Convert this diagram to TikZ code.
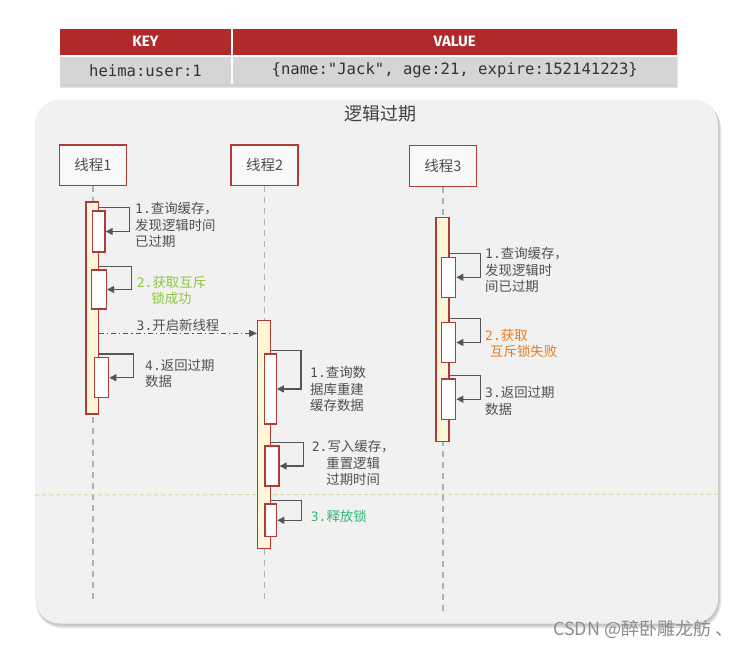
\documentclass[tikz,border=0pt]{standalone}
\usepackage{fontspec}
\newfontfamily\cjk{Noto Sans CJK SC}
\newfontfamily\monof{DejaVu Sans Mono}
\newfontfamily\hdrf{Fira Sans}
\usetikzlibrary{arrows.meta,calc}
\definecolor{hdred}{HTML}{B02A2A}
\definecolor{rowgray}{HTML}{D5D5D5}
\definecolor{panelbg}{HTML}{F1F1F1}
\definecolor{boxred}{HTML}{B03A38}
\definecolor{barfill}{HTML}{FFF6DA}
\definecolor{txtgray}{HTML}{505050}
\definecolor{linegray}{HTML}{555555}
\definecolor{lifegray}{HTML}{B0B0B0}
\definecolor{lgreen}{HTML}{8DC63F}
\definecolor{dgreen}{HTML}{2EB872}
\definecolor{orng}{HTML}{E67E22}
\definecolor{sepcol}{HTML}{D6D6A0}
\newcommand\mnum[1]{{\monof\fontsize{13}{16}\selectfont #1}}
\tikzset{
  hdrcell/.style={fill=hdred, text=white, inner sep=0, minimum height=26pt, font=\hdrf\bfseries\fontsize{15}{17}\selectfont},
  rowcell/.style={fill=rowgray, text=black!80, inner sep=0, minimum height=27pt, font=\monof\fontsize{15.6}{18}\selectfont},
  thread/.style={draw=boxred, line width=1.6pt, fill=white!60!panelbg, minimum width=67pt, minimum height=40.7pt, inner sep=0, text=txtgray, font=\cjk\fontsize{14.5}{16}\selectfont},
  actbar/.style={draw=boxred, line width=1.3pt, fill=barfill, inner sep=0},
  actbox/.style={draw=boxred, line width=1.3pt, fill=white, inner sep=0},
  lifeline/.style={draw=lifegray, line width=1.2pt, dash pattern=on 6pt off 5pt},
  selfloop/.style={draw=linegray, line width=1.3pt, -{Triangle[length=7pt,width=7pt]}},
  msg/.style={draw=linegray, line width=1.1pt, dash pattern=on 5pt off 3pt on 1.2pt off 3pt, -{Triangle[length=8pt,width=7pt]}},
  lbl/.style={inner sep=0, text=txtgray, font=\cjk\fontsize{13.4}{16.6}\selectfont, anchor=west},
}
\begin{document}
\begin{tikzpicture}[x=1pt,y=-1pt]
\useasboundingbox (0,0) rectangle (751,645);
\fill[white] (0,0) rectangle (751,645);
% table
\fill[black!10] (60,31) rectangle (678,88);
\fill[black!18] (61,31) rectangle (677,86.5);
\fill[white] (60,28.5) rectangle (677,84);
\node[hdrcell, minimum width=171pt] (keyh) at (145.5,41.5) {KEY};
\node[hdrcell, minimum width=444.5pt] (valh) at (454.75,41.5) {VALUE};
\node[rowcell, minimum width=171pt] (keyc) at (145.5,70.5) {heima:user:1};
\node[rowcell, minimum width=444.5pt] (valc) at (454.75,70.5) {\{name:"Jack", age:21, expire:152141223\}};
% panel
\fill[black!12, rounded corners=26pt] (36,102) rectangle (721,628);
\fill[black!22, rounded corners=25pt] (36,101) rectangle (719.5,626);
\fill[panelbg, rounded corners=25pt] (35,99.5) rectangle (718,623.5);
\node[text=black!75, inner sep=0, font=\cjk\fontsize{18}{20}\selectfont] (title) at (380,114) {逻辑过期};
% threads
\node[thread] (t1) at (93,165.3) {线程1};
\node[thread] (t2) at (264.7,165.3) {线程2};
\node[thread] (t3) at (443,166) {线程3};
\coordinate (e1) at (93,600);
\coordinate (e2) at (264.7,600);
\coordinate (e3) at (443,611);
\draw[lifeline] (t1.south) -- (e1);
\draw[lifeline] (t2.south) -- (e2);
\draw[lifeline] (t3.south) -- (e3);
% separator
\coordinate (sepL) at (35,495);
\coordinate (sepR) at (718,494);
\draw[draw=sepcol, line width=1pt, dash pattern=on 4pt off 3pt] (sepL) -- (sepR);
% activation bars
\node[actbar, minimum width=12.3pt, minimum height=212pt] (t1bar) at (92.2,308) {};
\node[actbar, minimum width=13pt, minimum height=227.6pt] (t2bar) at (264.2,434.5) {};
\node[actbar, minimum width=13pt, minimum height=224.4pt] (t3bar) at (442.5,329.5) {};
% boxes
\node[actbox, minimum width=12.7pt, minimum height=41pt] (t1a) at (98.7,231.5) {};
\node[actbox, minimum width=15pt, minimum height=39pt] (t1b) at (99,289.5) {};
\node[actbox, minimum width=14.4pt, minimum height=40pt] (t1c) at (101.5,377.7) {};
\node[actbox, minimum width=11.5pt, minimum height=70pt] (t2a) at (270.5,389) {};
\node[actbox, minimum width=14pt, minimum height=40pt] (t2b) at (272,466) {};
\node[actbox, minimum width=11.7pt, minimum height=32.7pt] (t2c) at (270.8,520.3) {};
\node[actbox, minimum width=14.4pt, minimum height=40pt] (t3a) at (448.5,277.3) {};
\node[actbox, minimum width=14.4pt, minimum height=40.4pt] (t3b) at (448.5,342.5) {};
\node[actbox, minimum width=14.4pt, minimum height=40.3pt] (t3c) at (448.5,399.2) {};
% self loops
\foreach \bx/\br in {t1a/t1bar,t1b/t1bar,t1c/t1bar,t2a/t2bar,t2b/t2bar,t2c/t2bar,t3a/t3bar,t3b/t3bar,t3c/t3bar}{
  \draw[selfloop] ($(\bx.north -| \br.east)+(0,-3)$) -| ($(\bx.east)+(24,0)$) -- (\bx.east);
}
% message
\coordinate (m3e) at ($(t2bar.north west)+(0,13.3)$);
\draw[msg] (t1bar.east |- m3e) -- node[above=1.5pt, inner sep=0, text=txtgray, font=\cjk\fontsize{13.4}{16}\selectfont] (m3l) {\mnum{3.}开启新线程} (m3e);
% labels
\node[lbl, align=left] (l1a) at (135,225) {\mnum{1.}查询缓存，\\发现逻辑时间\\已过期};
\node[lbl, align=center, text=lgreen] (l1b) at (136.7,290.5) {\mnum{2.}获取互斥\\锁成功};
\node[lbl, align=left] (l1c) at (145,373.3) {\mnum{4.}返回过期\\数据};
\node[lbl, align=left] (l2a) at (310,389) {\mnum{1.}查询数\\据库重建\\缓存数据};
\node[lbl, align=center] (l2b) at (311.7,463.3) {\mnum{2.}写入缓存，\\重置逻辑\\过期时间};
\node[lbl, text=dgreen] (l2c) at (310.7,516.7) {\mnum{3.}释放锁};
\node[lbl, align=left] (l3a) at (485,270.3) {\mnum{1.}查询缓存，\\发现逻辑时\\间已过期};
\node[lbl, align=left, text=orng] (l3b) at (485,343.3) {\mnum{2.}获取\\\hspace*{5pt}互斥锁失败};
\node[lbl, align=left] (l3c) at (485,400.7) {\mnum{3.}返回过期\\数据};
% watermark
\node[anchor=west, inner sep=0, text=black!45, font=\cjk\fontsize{18}{20}\selectfont] (wm) at (553,629) {CSDN @醉卧雕龙舫 、};
\end{tikzpicture}
\end{document}
